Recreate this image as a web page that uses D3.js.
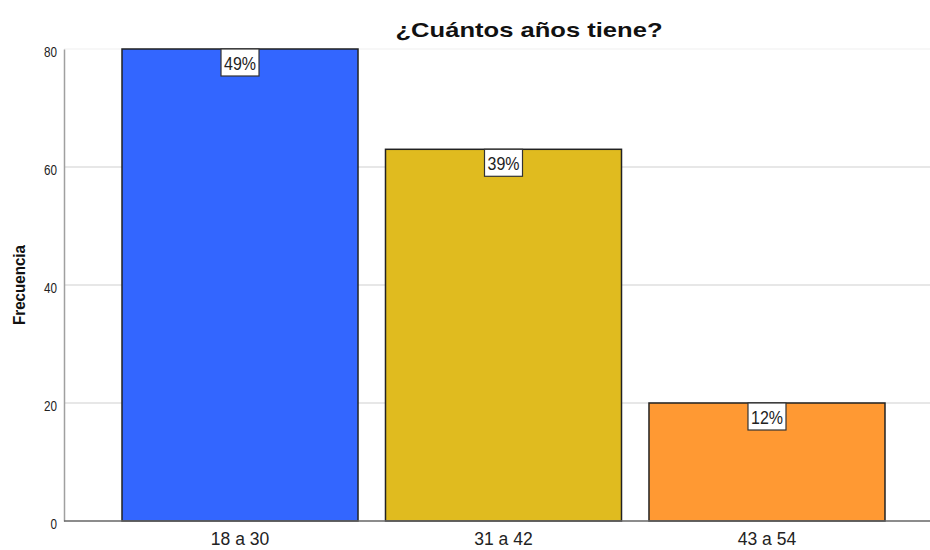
<!DOCTYPE html>
<html>
<head>
<meta charset="utf-8">
<script src="https://cdn.jsdelivr.net/npm/d3@7"></script>
<style>
  html, body { margin: 0; padding: 0; background: #fff; }
  svg { display: block; font-family: Arial, "Liberation Sans", sans-serif; }
</style>
</head>
<body>
<svg id="chart" width="930" height="550"></svg>
<script>
const title = "¿Cuántos años tiene?";
const yTitle = "Frecuencia";
const categories = ["18 a 30", "31 a 42", "43 a 54"];
const counts = [80, 63, 20];
const percentLabels = ["49%", "39%", "12%"];
const colors = ["#3366ff", "#e0bb1f", "#ff9933"];
const yTicks = [0, 20, 40, 60, 80];

(function () {
const svg = d3.select("#chart");
const plotLeft = 64, plotRight = 930, plotTop = 49, plotBottom = 521;

const x = d3.scaleBand()
  .domain(categories)
  .range([108.25, 898.75])
  .paddingInner(0.1043)
  .paddingOuter(0.0522);

const y = d3.scaleLinear().domain([0, 80]).range([plotBottom, plotTop]);

// gridlines
svg.append("g")
  .selectAll("line")
  .data(yTicks.filter(d => d > 0))
  .join("line")
  .attr("x1", plotLeft).attr("x2", plotRight)
  .attr("y1", d => y(d)).attr("y2", d => y(d))
  .attr("stroke", d => d === 80 ? "#f0f0f0" : "#cfcfcf")
  .attr("stroke-width", 1.2);

// y axis
const yAxis = svg.append("g")
  .attr("transform", `translate(${plotLeft},0)`)
  .call(d3.axisLeft(y).tickValues(yTicks).tickSize(0).tickPadding(6));
yAxis.select(".domain").attr("stroke", "#a0a0a0").attr("stroke-width", 1.5);
yAxis.selectAll("text")
  .attr("font-size", 14)
  .attr("fill", "#222")
  .attr("dy", "0.55em")
  .attr("font-family", "Arial, 'Liberation Sans', sans-serif")
  .attr("transform", "translate(-1,0)")
  .each(function() {
    const t = d3.select(this);
    const s = t.text();
    t.attr("textLength", s.length * 6.5).attr("lengthAdjust", "spacingAndGlyphs");
  });

// bars
svg.append("g")
  .selectAll("rect")
  .data(categories)
  .join("rect")
  .attr("x", d => x(d))
  .attr("width", x.bandwidth())
  .attr("y", (d, i) => y(counts[i]))
  .attr("height", (d, i) => y(0) - y(counts[i]))
  .attr("fill", (d, i) => colors[i])
  .attr("stroke", "#222")
  .attr("stroke-width", 1.5);

// x axis line
svg.append("line")
  .attr("x1", plotLeft).attr("x2", plotRight)
  .attr("y1", plotBottom).attr("y2", plotBottom)
  .attr("stroke", "#666").attr("stroke-width", 1.5);

// x labels
svg.append("g")
  .selectAll("text")
  .data(categories)
  .join("text")
  .attr("x", d => x(d) + x.bandwidth() / 2)
  .attr("y", plotBottom + 24)
  .attr("text-anchor", "middle")
  .attr("font-size", 17.5)
  .attr("fill", "#222")
  .text(d => d);

// percent labels
const lab = svg.append("g")
  .selectAll("g")
  .data(categories)
  .join("g")
  .attr("transform", (d, i) => `translate(${x(d) + x.bandwidth() / 2},${y(counts[i])})`);
lab.append("rect")
  .attr("x", -19).attr("y", 0)
  .attr("width", 38).attr("height", 27)
  .attr("fill", "#fff")
  .attr("stroke", "#333")
  .attr("stroke-width", 1.2);
lab.append("text")
  .attr("x", 0).attr("y", 21)
  .attr("text-anchor", "middle")
  .attr("font-size", 18)
  .attr("fill", "#222")
  .attr("textLength", 32)
  .attr("lengthAdjust", "spacingAndGlyphs")
  .text((d, i) => percentLabels[i]);

// y title
svg.append("text")
  .attr("transform", `translate(25,285) rotate(-90)`)
  .attr("text-anchor", "middle")
  .attr("font-size", 17)
  .attr("font-weight", "bold")
  .attr("fill", "#111")
  .attr("textLength", 80)
  .attr("lengthAdjust", "spacingAndGlyphs")
  .text(yTitle);

// title
svg.append("text")
  .attr("x", 529)
  .attr("y", 37)
  .attr("text-anchor", "middle")
  .attr("font-size", 21)
  .attr("font-weight", "bold")
  .attr("fill", "#111")
  .attr("textLength", 267)
  .attr("lengthAdjust", "spacingAndGlyphs")
  .text(title);
})();
</script>
</body>
</html>
